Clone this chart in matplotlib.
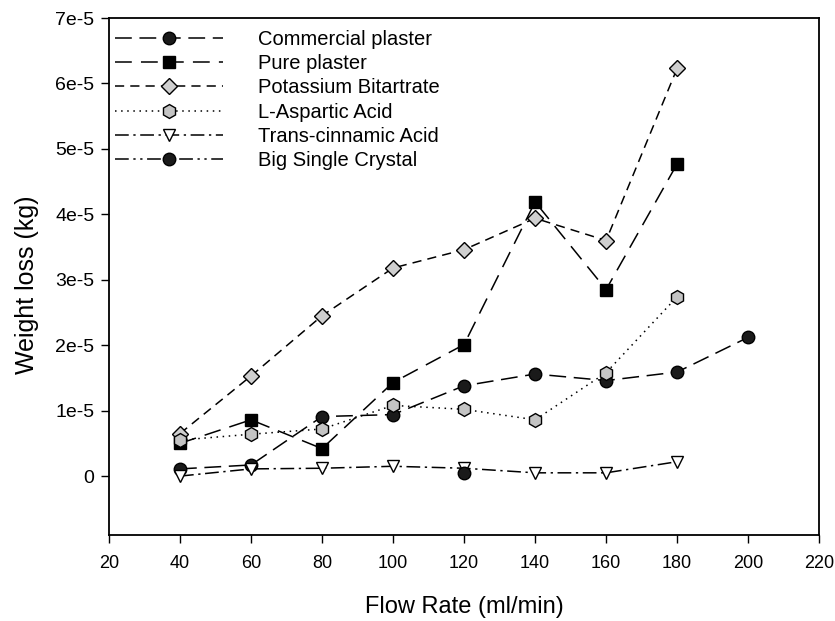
import matplotlib
matplotlib.use("Agg")
import matplotlib.pyplot as plt

plt.rcParams['font.family'] = ['Liberation Sans', 'DejaVu Sans']

flow = [40, 60, 80, 100, 120, 140, 160, 180]
flow_cp = [40, 60, 80, 100, 120, 140, 160, 180, 200]

commercial_plaster = [0.11e-5, 0.17e-5, 0.91e-5, 0.94e-5, 1.38e-5, 1.56e-5, 1.46e-5, 1.59e-5, 2.12e-5]
pure_plaster = [0.50e-5, 0.86e-5, 0.42e-5, 1.43e-5, 2.01e-5, 4.19e-5, 2.85e-5, 4.77e-5]
potassium_bitartrate = [0.65e-5, 1.53e-5, 2.45e-5, 3.18e-5, 3.46e-5, 3.94e-5, 3.60e-5, 6.23e-5]
l_aspartic = [0.55e-5, 0.64e-5, 0.72e-5, 1.08e-5, 1.02e-5, 0.86e-5, 1.58e-5, 2.74e-5]
trans_cinnamic = [0.0, 0.11e-5, 0.12e-5, 0.15e-5, 0.12e-5, 0.05e-5, 0.05e-5, 0.22e-5]
flow_bsc = [120]
big_single_crystal = [0.04e-5]

y_ticks = [0, 1e-5, 2e-5, 3e-5, 4e-5, 5e-5, 6e-5, 7e-5]
y_tick_labels = ['0', '1e-5', '2e-5', '3e-5', '4e-5', '5e-5', '6e-5', '7e-5']
x_ticks = [20, 40, 60, 80, 100, 120, 140, 160, 180, 200, 220]

fig = plt.figure(figsize=(8.35, 6.21), dpi=100)
ax = fig.add_axes([0.1305, 0.1385, 0.8505, 0.8325])

lw = 1.1
ms = 9
ax.plot(flow_cp, commercial_plaster, color='black', lw=lw, dashes=(11, 5),
        marker='o', ms=ms, mfc='#1a1a1a', mec='black', label='Commercial plaster')
ax.plot(flow, pure_plaster, color='black', lw=lw, dashes=(11, 6),
        marker='s', ms=ms, mfc='black', mec='black', label='Pure plaster')
ax.plot(flow, potassium_bitartrate, color='black', lw=lw, dashes=(6, 4),
        marker='D', ms=ms - 1, mfc='#cfcfcf', mec='black', mew=1.0, label='Potassium Bitartrate')
ax.plot(flow, l_aspartic, color='black', lw=lw, dashes=(1, 3),
        marker='h', ms=ms + 1, mfc='#c4c4c4', mec='black', mew=1.0, label='L-Aspartic Acid')
ax.plot(flow, trans_cinnamic, color='black', lw=lw, dashes=(9, 3, 1.5, 3),
        marker='v', ms=ms, mfc='white', mec='black', mew=1.0, label='Trans-cinnamic Acid')
ax.plot(flow_bsc, big_single_crystal, color='black', lw=lw, dashes=(9, 3, 1.5, 3, 1.5, 3),
        marker='o', ms=ms, mfc='#1a1a1a', mec='black', label='Big Single Crystal')

ax.set_xlim(20, 220)
ax.set_ylim(-0.9e-5, 7e-5)
ax.set_xticks(x_ticks)
ax.set_yticks(y_ticks)
ax.set_yticklabels(y_tick_labels)
ax.tick_params(axis='y', direction='out', length=5.5, width=1, labelsize=14, pad=5)
ax.tick_params(axis='x', direction='out', length=5.5, width=1, labelsize=13, pad=9)
for s in ax.spines.values():
    s.set_linewidth(1.3)

ax.set_xlabel('Flow Rate (ml/min)', fontsize=17)
ax.set_ylabel('Weight loss (kg)', fontsize=18)
ax.xaxis.set_label_coords(0.5, -0.118)
ax.yaxis.set_label_coords(-0.098, 0.484)

ax.legend(loc='upper left', frameon=False, fontsize=14.5, handlelength=5.4,
          handletextpad=1.7, labelspacing=0.26, borderpad=0, borderaxespad=0,
          bbox_to_anchor=(0.008, 0.977))

fig.savefig('out.png', dpi=100)
